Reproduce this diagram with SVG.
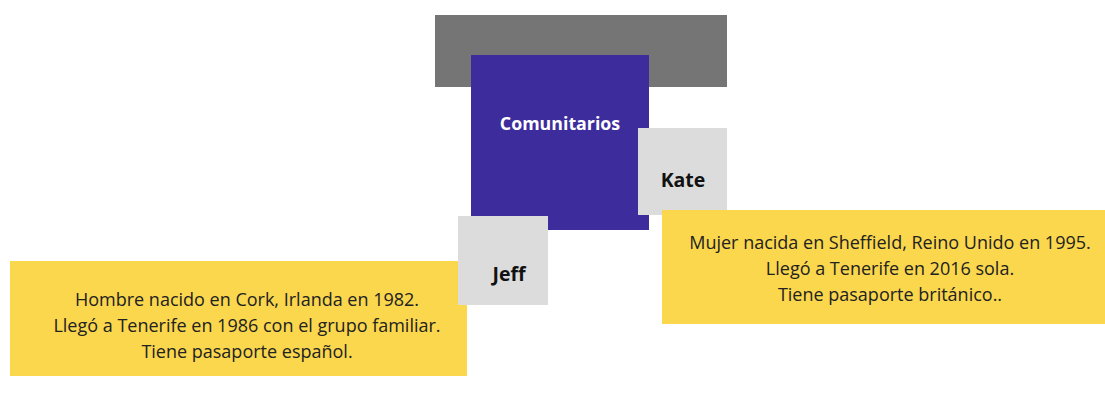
<svg xmlns="http://www.w3.org/2000/svg" width="1105" height="394" viewBox="0 0 1105 394">
<style>
.name{font-family:"Open Sans","Liberation Sans",sans-serif;font-weight:700;font-size:19.5px;fill:#111;text-anchor:middle}
.body{font-family:"Open Sans","Liberation Sans",sans-serif;font-size:18px;fill:#222;text-anchor:middle}
.yel{fill:#fad74c}
.gry{fill:#dcdcdc}
</style>
<rect width="1105" height="394" fill="#fff"/>
<g id="header"><rect x="435" y="15" width="292" height="72" fill="#757575"/></g>
<g id="comunitarios">
<rect x="471" y="55" width="178" height="175" fill="#3d2c9c"/>
<text x="560" y="130" font-family="'Open Sans','Liberation Sans',sans-serif" font-weight="700" font-size="17.8" fill="#fff" text-anchor="middle">Comunitarios</text>
</g>
<g id="kate">
<rect class="gry" x="638" y="128" width="89" height="87"/>
<text class="name" x="683" y="187">Kate</text>
</g>
<g id="kate-info">
<rect class="yel" x="662" y="210" width="443" height="114"/>
<text class="body" x="890" y="249">Mujer nacida en Sheffield, Reino Unido en 1995.</text>
<text class="body" x="890" y="275">Llegó a Tenerife en 2016 sola.</text>
<text class="body" x="890" y="301">Tiene pasaporte británico..</text>
</g>
<g id="jeff-info">
<rect class="yel" x="10" y="261" width="457" height="115"/>
<text class="body" x="247" y="306">Hombre nacido en Cork, Irlanda en 1982.</text>
<text class="body" x="247" y="332">Llegó a Tenerife en 1986 con el grupo familiar.</text>
<text class="body" x="247" y="358">Tiene pasaporte español.</text>
</g>
<g id="jeff">
<rect class="gry" x="458" y="216" width="90" height="89"/>
<text class="name" x="509" y="281">Jeff</text>
</g>
<g id="connectors"></g>
</svg>
